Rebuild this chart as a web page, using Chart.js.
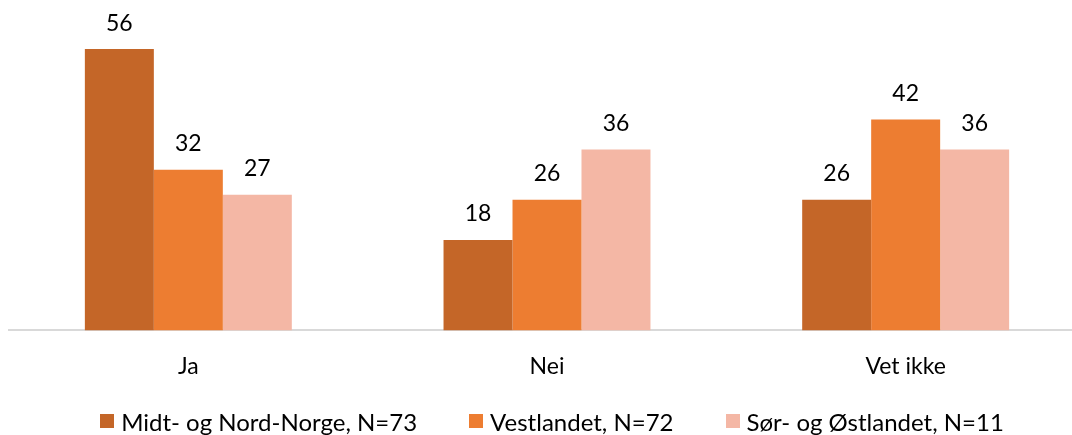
<!DOCTYPE html>
<html>
<head>
<meta charset="utf-8">
<script src="https://cdn.jsdelivr.net/npm/chart.js@4.4.1/dist/chart.umd.min.js"></script>
<style>
  html, body { margin: 0; padding: 0; background: #fff; overflow: hidden; }
  #wrap { position: relative; width: 1072px; height: 435px; overflow: hidden; }
  #c { position: absolute; left: 0; top: 0; }
  #legend {
    position: absolute; left: 0; top: 407px; width: 1104px; height: 28px;
    display: flex; justify-content: center; align-items: center;
    font-family: Lato, sans-serif; font-size: 24px; color: #000; white-space: nowrap;
  }
  .item { display: flex; align-items: center; margin: 0 26px; }
  .box { width: 14px; height: 14px; margin-right: 7px; }
</style>
</head>
<body>
<div id="wrap">
  <canvas id="c" width="1085" height="435"></canvas>
  <div id="legend"></div>
</div>
<script>
const categories = ["Ja", "Nei", "Vet ikke"];
const seriesNames = ["Midt- og Nord-Norge, N=73", "Vestlandet, N=72", "Sør- og Østlandet, N=11"];
const midtNord = [56, 18, 26];
const vestlandet = [32, 26, 42];
const sorOst = [27, 36, 36];
const seriesColors = ["#C46628", "#ED7D31", "#F4B7A5"];

const FONT = "Lato, sans-serif";

const valueLabels = {
  id: 'valueLabels',
  afterDatasetsDraw(chart) {
    const ctx = chart.ctx;
    ctx.save();
    ctx.font = "23px " + FONT;
    ctx.fillStyle = "#000";
    ctx.textAlign = "center";
    ctx.textBaseline = "middle";
    chart.data.datasets.forEach((ds, i) => {
      const meta = chart.getDatasetMeta(i);
      meta.data.forEach((bar, j) => {
        ctx.fillText(String(ds.data[j]), bar.x, bar.y - 26);
      });
    });
    ctx.restore();
  }
};

const chart = new Chart(document.getElementById('c'), {
  type: 'bar',
  data: {
    labels: categories,
    datasets: [
      { label: seriesNames[0], data: midtNord, backgroundColor: seriesColors[0] },
      { label: seriesNames[1], data: vestlandet, backgroundColor: seriesColors[1] },
      { label: seriesNames[2], data: sorOst, backgroundColor: seriesColors[2] }
    ]
  },
  options: {
    responsive: false,
    animation: false,
    devicePixelRatio: 1,
    layout: { padding: { left: 9, right: 0, top: 29, bottom: 33 } },
    datasets: { bar: { categoryPercentage: 0.577, barPercentage: 1.0, borderWidth: 0 } },
    plugins: {
      legend: { display: false },
      tooltip: { enabled: false }
    },
    scales: {
      x: {
        grid: { display: false, drawTicks: false },
        border: { display: true, color: "#D9D9D9", width: 2 },
        ticks: { color: "#000", font: { family: FONT, size: 23 }, padding: 22 }
      },
      y: {
        display: false,
        min: 0,
        max: 60
      }
    }
  },
  plugins: [valueLabels]
});

// HTML legend built from the chart's own legend items
const legendEl = document.getElementById('legend');
chart.options.plugins.legend.labels.generateLabels(chart).forEach(it => {
  const item = document.createElement('div');
  item.className = 'item';
  const box = document.createElement('span');
  box.className = 'box';
  box.style.background = it.fillStyle;
  const txt = document.createElement('span');
  txt.textContent = it.text;
  item.appendChild(box);
  item.appendChild(txt);
  legendEl.appendChild(item);
});
</script>
</body>
</html>
